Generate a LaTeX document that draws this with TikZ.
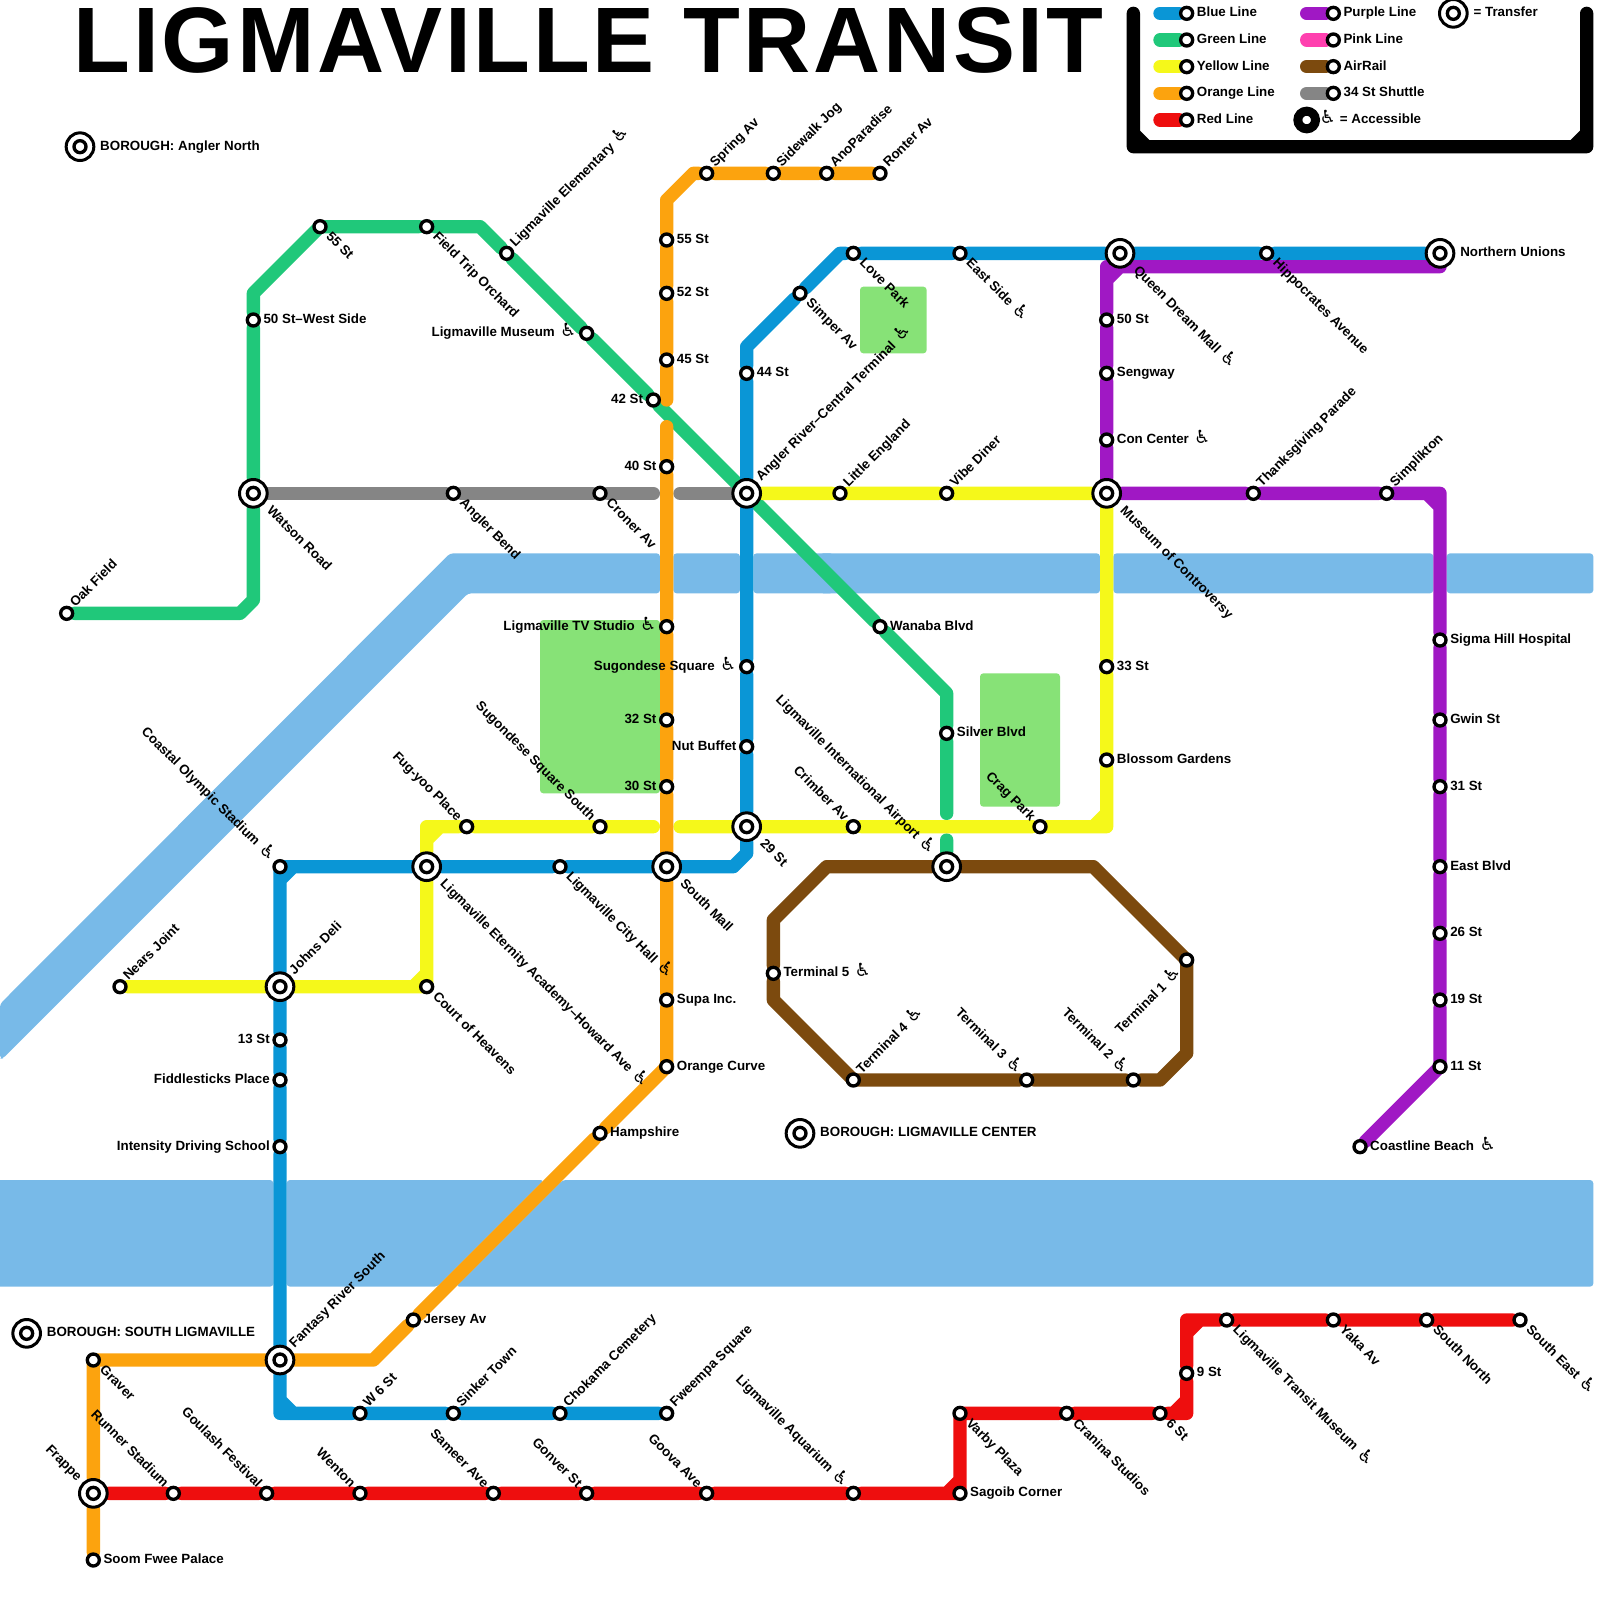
\documentclass[tikz,border=0pt]{standalone}
\usepackage{fontspec}
\setmainfont{Liberation Sans}
\newfontfamily\symfont{DejaVu Sans}
\newfontfamily\titlefont[LetterSpace=3]{Liberation Sans}
\usetikzlibrary{backgrounds}
\definecolor{blueln}{HTML}{0A96D6}
\definecolor{greenln}{HTML}{20C87A}
\definecolor{yellowln}{HTML}{F5F81A}
\definecolor{orangeln}{HTML}{FCA30E}
\definecolor{redln}{HTML}{EE0E0E}
\definecolor{purpleln}{HTML}{A018C4}
\definecolor{pinkln}{HTML}{FF40AF}
\definecolor{brownln}{HTML}{7C4A0E}
\definecolor{grayln}{HTML}{858585}
\definecolor{lakecol}{HTML}{78BAE8}
\definecolor{parkcol}{HTML}{87E277}
\newcommand{\wheel}{{\symfont\mdseries\fontsize{15.5}{13}\selectfont\char"267F}}
\newcommand{\acc}{\hspace{.4em}\wheel}
\tikzset{
  rail/.style   ={line width=4mm, line cap=round, line join=round},
  stn/.style    ={circle, draw=black, fill=white, line width=1mm, minimum size=3.6mm, inner sep=0pt},
  xfer/.style   ={circle, draw=black, fill=white, line width=.9mm, minimum size=8.3mm, inner sep=0pt},
  accstn/.style ={circle, draw=black, fill=white, line width=2.7mm, minimum size=5.3mm, inner sep=0pt},
  lbl/.style    ={inner sep=0pt, text height=8pt, text depth=2pt, font=\bfseries\fontsize{11.4}{13}\selectfont},
  lblE/.style   ={lbl, anchor=west, xshift=3mm},
  lblW/.style   ={lbl, anchor=east, xshift=-3mm},
  lblNE/.style  ={lbl, anchor=west, xshift=1.8mm, yshift=2.4mm, rotate=45},
  lblSE/.style  ={lbl, anchor=west, xshift=2.4mm, yshift=-2.4mm, rotate=-45},
  lblNW/.style  ={lbl, anchor=east, xshift=-2.2mm, yshift=2.2mm, rotate=-45},
  lblSW/.style  ={lbl, anchor=east, xshift=-2mm, yshift=-3mm, rotate=45},
  xlblE/.style  ={lbl, anchor=west, xshift=6mm},
  xlblNE/.style ={lbl, anchor=west, xshift=3.6mm, yshift=4.2mm, rotate=45},
  xlblSE/.style ={lbl, anchor=west, xshift=4.6mm, yshift=-4.6mm, rotate=-45},
  xlblNW/.style ={lbl, anchor=east, xshift=-4.2mm, yshift=4.2mm, rotate=-45},
}

\begin{document}
\begin{tikzpicture}[x=4mm,y=-4mm]
\useasboundingbox (0,0) rectangle (120,120);
% --- title ---
\node[anchor=base west, inner sep=0pt, font=\titlefont\bfseries\fontsize{79.4}{80}\selectfont] (title) at (5.5,5.45) {LIGMAVILLE TRANSIT};
% --- transfer stations ---
\foreach \n/\x/\y/\s/\t in {
  queen/84/19/xlblSE/{Queen Dream Mall\acc}, northern/108/19/xlblE/{Northern Unions},
  angler/56/37/xlblNE/{Angler River–Central Terminal\acc}, watson/19/37/xlblSE/{Watson Road},
  museum/83/37/xlblSE/{Museum of Controversy}, twentynine/56/62/xlblSE/{29 St},
  small/50/65/xlblSE/{South Mall}, eternity/32/65/xlblSE/{Ligmaville Eternity Academy–Howard Ave\acc},
  johns/21/74/xlblNE/{Johns Deli}, fantasy/21/102/xlblNE/{Fantasy River South},
  frappe/7/112/xlblNW/{Frappe}, airport/71/65/xlblNW/{Ligmaville International Airport\acc},
  bnorth/6/11/xlblE/{BOROUGH: Angler North}, bcenter/60/85/xlblE/{BOROUGH: LIGMAVILLE CENTER},
  bsouth/2/100/xlblE/{BOROUGH: SOUTH LIGMAVILLE}, ktransfer/109/1/xlblE/{= Transfer}} {
  \node[xfer] (\n) at (\x,\y) {};
  \node[stn] (\n i) at (\n) {};
  \node[\s] (\n t) at (\n) {\t};
}
% --- stations ---
\foreach \n/\x/\y/\s/\t in {
  % blue
  hippo/95/19/lblSE/{Hippocrates Avenue}, eastside/72/19/lblSE/{East Side\acc},
  lovepark/64/19/lblSE/{Love Park}, simper/60/22/lblSE/{Simper Av}, st44/56/28/lblE/{44 St},
  sugsq/56/50/lblW/{Sugondese Square\acc}, nutbuf/56/56/lblW/{Nut Buffet},
  cityhall/42/65/lblSE/{Ligmaville City Hall\acc}, olympic/21/65/lblNW/{Coastal Olympic Stadium\acc},
  st13/21/78/lblW/{13 St}, fiddle/21/81/lblW/{Fiddlesticks Place}, intensity/21/86/lblW/{Intensity Driving School},
  wsix/27/106/lblNE/{W 6 St}, sinker/34/106/lblNE/{Sinker Town},
  chokama/42/106/lblNE/{Chokama Cemetery}, fweempa/50/106/lblNE/{Fweempa Square},
  % green
  oak/5/46/lblNE/{Oak Field}, westside/19/24/lblE/{50 St–West Side}, gst55/24/17/lblSE/{55 St},
  orchard/32/17/lblSE/{Field Trip Orchard}, elem/38/19/lblNE/{Ligmaville Elementary\acc},
  lmuseum/44/25/lblW/{Ligmaville Museum\acc}, st42/49/30/lblW/{42 St},
  wanaba/66/47/lblE/{Wanaba Blvd}, silver/71/55/lblE/{Silver Blvd},
  % orange
  spring/53/13/lblNE/{Spring Av}, sidewalk/58/13/lblNE/{Sidewalk Jog},
  ano/62/13/lblNE/{AnoParadise}, ronter/66/13/lblNE/{Ronter Av},
  st55/50/18/lblE/{55 St}, st52/50/22/lblE/{52 St}, st45/50/27/lblE/{45 St}, st40/50/35/lblW/{40 St},
  tvstudio/50/47/lblW/{Ligmaville TV Studio\acc}, st32/50/54/lblW/{32 St}, st30/50/59/lblW/{30 St},
  supa/50/75/lblE/{Supa Inc.}, curve/50/80/lblE/{Orange Curve}, hampshire/45/85/lblE/{Hampshire},
  jersey/31/99/lblE/{Jersey Av}, graver/7/102/lblSE/{Graver}, soom/7/117/lblE/{Soom Fwee Palace},
  % yellow
  nears/9/74/lblNE/{Nears Joint}, court/32/74/lblSE/{Court of Heavens}, fugyoo/35/62/lblNW/{Fug-yoo Place},
  sugsouth/45/62/lblNW/{Sugondese Square South}, crimber/64/62/lblNW/{Crimber Av}, crag/78/62/lblNW/{Crag Park},
  blossom/83/57/lblE/{Blossom Gardens}, st33/83/50/lblE/{33 St}, vibe/71/37/lblNE/{Vibe Diner},
  little/63/37/lblNE/{Little England},
  % shuttle
  bend/34/37/lblSE/{Angler Bend}, croner/45/37/lblSE/{Croner Av},
  % purple
  pst50/83/24/lblE/{50 St}, sengway/83/28/lblE/{Sengway}, concenter/83/33/lblE/{Con Center\acc},
  thanks/94/37/lblNE/{Thanksgiving Parade}, simplikton/104/37/lblNE/{Simplikton},
  sigma/108/48/lblE/{Sigma Hill Hospital}, gwin/108/54/lblE/{Gwin St}, st31/108/59/lblE/{31 St},
  eastblvd/108/65/lblE/{East Blvd}, st26/108/70/lblE/{26 St}, st19/108/75/lblE/{19 St},
  st11/108/80/lblE/{11 St}, coast/102/86/lblE/{Coastline Beach\acc},
  % airrail
  term1/89/72/lblSW/{Terminal 1\acc}, term2/85/81/lblNW/{Terminal 2\acc}, term3/77/81/lblNW/{Terminal 3\acc},
  term4/64/81/lblNE/{Terminal 4\acc}, term5/58/73/lblE/{Terminal 5\acc},
  % red
  runner/13/112/lblNW/{Runner Stadium}, goulash/20/112/lblNW/{Goulash Festival}, wenton/27/112/lblNW/{Wenton},
  sameer/37/112/lblNW/{Sameer Ave}, gonver/44/112/lblNW/{Gonver St}, goova/53/112/lblNW/{Goova Ave},
  aquarium/64/112/lblNW/{Ligmaville Aquarium\acc}, sagoib/72/112/lblE/{Sagoib Corner},
  varby/72/106/lblSE/{Varby Plaza}, cranina/80/106/lblSE/{Cranina Studios}, st6/87/106/lblSE/{6 St},
  st9/89/103/lblE/{9 St}, tmuseum/92/99/lblSE/{Ligmaville Transit Museum\acc}, yaka/100/99/lblSE/{Yaka Av},
  southnorth/107/99/lblSE/{South North}, southeast/114/99/lblSE/{South East\acc}} {
  \node[stn] (\n) at (\x,\y) {};
  \node[\s] (\n t) at (\n) {\t};
}
% --- bends and line ends ---
\foreach \n/\x/\y in {
  bb1/63/19, bb2/56/26, bb3/56/64, bb4/55/65, bb5/21/106,
  gg1/18/46, gg2/19/45, gg3/19/22, gg4/36/17, gg5/71/52, gg6/71/61, gg7/71/63,
  oo1/52/13, oo2/50/15, oo3/50/30, oo4/50/32, oo5/28/102,
  yy1/32/62, yy2/49/62, yy3/51/62, yy4/83/62,
  ss1/49/37, ss2/51/37,
  pp1/108/20, pp2/83/20, pp3/108/37,
  rr1/82/65, rr2/89/79, rr3/87/81, rr4/58/75, rr5/58/69, rr6/62/65,
  qq1/89/106, qq2/89/99,
  fr1/85/1, fr2/85/11, fr3/119/11, fr4/119/1} {
  \coordinate (\n) at (\x,\y);
}
\begin{scope}[on background layer]
  \fill[white] (0,0) rectangle (120,120);
  % --- water ---
  \begin{scope}[rounded corners=1mm]
    \fill[lakecol] (0,75.3) -- (33.75,41.5) -- (49.5,41.5) -- (49.5,44.5) -- (35.1,44.5) -- (0.2,79.4) -- (0,79.4) -- cycle;
    \fill[lakecol] (50.5,41.5) rectangle (55.5,44.5);
    \fill[lakecol] (56.5,41.5) rectangle (62.5,44.5);
    \fill[lakecol] (61.5,41.5) rectangle (82.5,44.5);
    \fill[lakecol] (83.5,41.5) rectangle (107.5,44.5);
    \fill[lakecol] (108.5,41.5) rectangle (119.5,44.5);
    \fill[lakecol] (-1,88.5) rectangle (20.5,96.5);
    \fill[lakecol] (21.5,88.5) -- (40.8,88.5) -- (32.8,96.5) -- (21.5,96.5) -- cycle;
    \fill[lakecol] (42.2,88.5) -- (119.5,88.5) -- (119.5,96.5) -- (34.2,96.5) -- cycle;
    % --- parks ---
    \fill[parkcol] (64.5,21.5) rectangle (69.5,26.5);
    \fill[parkcol] (40.5,46.5) rectangle (49.5,59.5);
    \fill[parkcol] (73.5,50.5) rectangle (79.5,60.5);
  \end{scope}
  % --- lines ---
  \draw[rail,grayln] (watson) -- (bend) -- (croner) -- (ss1) (ss2) -- (angler);
  \draw[rail,greenln] (oak) -- (gg1) -- (gg2) -- (watson) -- (westside) -- (gg3) -- (gst55.center) -- (orchard) -- (gg4)
    -- (elem) -- (lmuseum) -- (st42) -- (angler) -- (wanaba) -- (gg5) -- (silver) -- (gg6) (gg7) -- (airport);
  \draw[rail,blueln] (northern) -- (hippo) -- (queen) -- (eastside) -- (lovepark) -- (bb1) -- (simper) -- (bb2) -- (st44)
    -- (angler) -- (sugsq) -- (nutbuf) -- (twentynine) -- (bb3) -- (bb4) -- (small) -- (cityhall) -- (eternity)
    -- (olympic.center) -- (johns) -- (st13) -- (fiddle) -- (intensity) -- (fantasy) -- (bb5) -- (wsix) -- (sinker)
    -- (chokama) -- (fweempa)
    (olympic) +(1,0) -- +(0,1) (bb5) +(1,0) -- +(0,-1);
  \draw[rail,yellowln] (nears) -- (johns) -- (court.center) -- (eternity) -- (yy1) -- (fugyoo) -- (sugsouth) -- (yy2)
    (yy3) -- (twentynine) -- (crimber) -- (crag) -- (yy4) -- (blossom) -- (st33) -- (museum) -- (vibe) -- (little) -- (angler)
    (court) +(-1,0) -- +(0,-1) (yy1) +(1,0) -- +(0,1) (yy4) +(-1,0) -- +(0,-1);
  \draw[rail,orangeln] (ronter) -- (ano) -- (sidewalk) -- (spring) -- (oo1) -- (oo2) -- (st55) -- (st52) -- (st45) -- (oo3)
    (oo4) -- (st40) -- (tvstudio) -- (st32) -- (st30) -- (small) -- (supa) -- (curve.center) -- (hampshire) -- (jersey)
    -- (oo5) -- (fantasy) -- (graver.center) -- (frappe) -- (soom);
  \draw[rail,purpleln] (pp1) -- (pp2) -- (pst50) -- (sengway) -- (concenter) -- (museum) -- (thanks) -- (simplikton) -- (pp3)
    -- (sigma) -- (gwin) -- (st31) -- (eastblvd) -- (st26) -- (st19) -- (st11.center) -- (coast)
    (pp2) +(1,0) -- +(0,1) (pp3) +(-1,0) -- +(0,1);
  \draw[rail,brownln] (airport) -- (rr1) -- (term1.center) -- (rr2) -- (rr3) -- (term2) -- (term3) -- (term4.center)
    -- (rr4) -- (term5) -- (rr5) -- (rr6) -- (airport);
  \draw[rail,redln] (frappe) -- (runner) -- (goulash) -- (wenton) -- (sameer) -- (gonver) -- (goova) -- (aquarium)
    -- (sagoib.center) -- (varby.center) -- (cranina) -- (st6) -- (qq1) -- (st9) -- (qq2) -- (tmuseum) -- (yaka)
    -- (southnorth) -- (southeast)
    (sagoib) +(-1,0) -- +(0,-1) (qq1) +(-1,0) -- +(0,-1) (qq2) +(1,0) -- +(0,1);
  % --- legend frame ---
  \draw[rail,black] (fr1) -- (fr2) -- (fr3) -- (fr4) (fr2) +(1,0) -- +(0,-1) (fr3) +(-1,0) -- +(0,-1);
\end{scope}
% --- legend ---
\foreach \n/\c/\x/\y/\t in {
  kblue/blueln/87/1/Blue Line, kgreen/greenln/87/3/Green Line, kyellow/yellowln/87/5/Yellow Line,
  korange/orangeln/87/7/Orange Line, kred/redln/87/9/Red Line, kpurple/purpleln/98/1/Purple Line,
  kpink/pinkln/98/3/Pink Line, kbrown/brownln/98/5/AirRail, kgray/grayln/98/7/34 St Shuttle} {
  \coordinate (\n a) at (\x,\y);
  \node[stn,xshift=8mm] (\n) at (\n a) {};
  \node[lblE] (\n t) at (\n) {\t};
  \begin{scope}[on background layer]
    \draw[rail,\c] (\n a) -- (\n);
  \end{scope}
}
\node[accstn] (kacc) at (98,9) {};
\node[lbl,anchor=west] (kacct) at (98.95,9) {\wheel\hspace{.3em}= Accessible};
\end{tikzpicture}
\end{document}
